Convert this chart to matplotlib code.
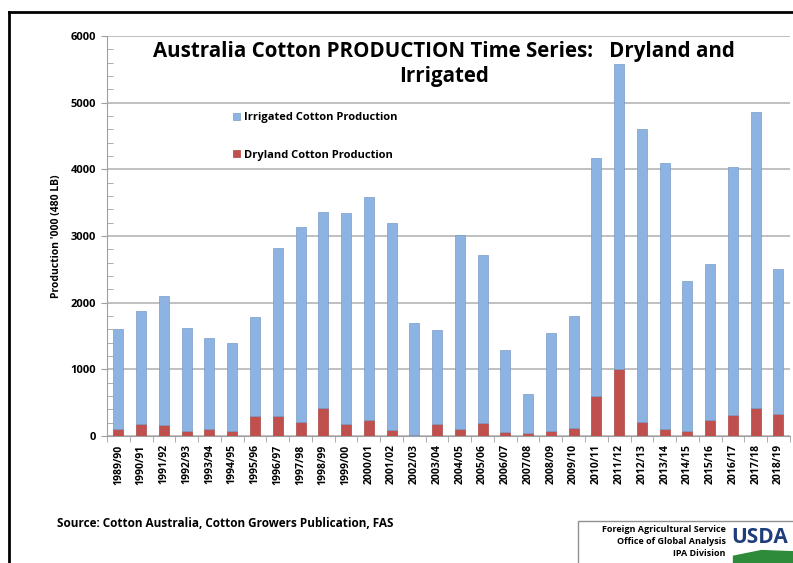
import matplotlib.pyplot as plt
from matplotlib.patches import Rectangle, Polygon
from matplotlib.lines import Line2D
import numpy as np

plt.rcParams['font.family'] = ['Open Sans', 'DejaVu Sans']

seasons = ['1989/90', '1990/91', '1991/92', '1992/93', '1993/94', '1994/95',
           '1995/96', '1996/97', '1997/98', '1998/99', '1999/00', '2000/01',
           '2001/02', '2002/03', '2003/04', '2004/05', '2005/06', '2006/07',
           '2007/08', '2008/09', '2009/10', '2010/11', '2011/12', '2012/13',
           '2013/14', '2014/15', '2015/16', '2016/17', '2017/18', '2018/19']
total = [1600, 1880, 2100, 1620, 1470, 1400, 1790, 2820, 3130, 3360,
         3340, 3580, 3200, 1700, 1590, 3020, 2720, 1295, 630, 1550,
         1800, 4170, 5580, 4610, 4090, 2330, 2580, 4040, 4860, 2500]
dryland = [110, 175, 165, 70, 100, 70, 305, 293, 215, 415,
           185, 235, 95, 10, 185, 110, 195, 55, 40, 80,
           120, 600, 1010, 215, 110, 70, 235, 320, 415, 325]
irrigated = [t - d for t, d in zip(total, dryland)]

blue = '#8db3e2'
red = '#c0504d'

fig = plt.figure(figsize=(7.93, 5.63), dpi=100)
ax = fig.add_axes([0.135, 0.2256, 0.861, 0.7104])

x = np.arange(len(seasons))
ax.bar(x, dryland, width=0.44, color=red, edgecolor='#a94441', linewidth=0.5,
       label='Dryland Cotton Production', zorder=3)
ax.bar(x, irrigated, bottom=dryland, width=0.44, color=blue, edgecolor='#7a9cc8',
       linewidth=0.5, label='Irrigated Cotton Production', zorder=3)

ax.set_xlim(-0.5, len(seasons) - 0.5)
ax.set_ylim(0, 6000)
ax.set_yticks(range(0, 6001, 1000))
ax.set_yticks(range(0, 6001, 200), minor=True)
ax.set_xticks(x)
ax.set_xticklabels(seasons, rotation=90, fontsize=7.5, fontweight='bold')
ax.set_xticks(np.arange(-0.5, len(seasons), 1), minor=True)
ax.tick_params(axis='x', which='major', length=0, pad=6)
ax.tick_params(axis='x', which='minor', length=4, color='#a0a0a0')
ax.tick_params(axis='y', which='both', length=4, color='#a0a0a0', direction='in')
ax.tick_params(axis='y', which='major', direction='out', labelsize=8, pad=4)
for lab in ax.get_yticklabels():
    lab.set_fontweight('bold')
ax.grid(axis='y', color='#b5b5b5', linewidth=1.2, zorder=0)
for side in ['top', 'right']:
    ax.spines[side].set_visible(False)
ax.spines['left'].set_color('#a0a0a0')
ax.spines['bottom'].set_color('#a0a0a0')
ax.set_ylabel("Production '000 (480 LB)", fontsize=7.5, fontweight='bold', labelpad=6)

handles, labels = ax.get_legend_handles_labels()
ax.legend(handles[::-1], labels[::-1], loc='upper left', bbox_to_anchor=(0.17, 0.835),
          frameon=False, prop={'weight': 'bold', 'size': 8},
          handlelength=0.6, handleheight=0.6, handletextpad=0.4, labelspacing=2.4)

fig.text(0.56, 0.887, 'Australia Cotton PRODUCTION Time Series:   Dryland and\nIrrigated',
         ha='center', va='center', fontsize=14.8, fontweight='bold', linespacing=1.25)

fig.text(0.072, 0.071, 'Source: Cotton Australia, Cotton Growers Publication, FAS',
         fontsize=8.5, fontweight='bold', va='center')

# outer frame
fig.add_artist(Line2D([0.011, 1.0], [0.979, 0.979], color='black', lw=2))
fig.add_artist(Line2D([0.011, 0.011], [0.0, 0.979], color='black', lw=2))

# USDA box
fig.add_artist(Rectangle((0.729, -0.01), 0.28, 0.085, fill=False, edgecolor='#909090', lw=1))
for yy, s in [(0.060, 'Foreign Agricultural Service'), (0.038, 'Office of Global Analysis'),
              (0.016, 'IPA Division')]:
    fig.text(0.915, yy, s, ha='right', va='center', fontsize=6.5, fontweight='bold')
fig.text(0.922, 0.045, 'USDA', ha='left', va='center', fontsize=15, fontweight='bold',
         color='#1f3d7a')
fig.add_artist(Polygon([[0.925, 0.0], [0.925, 0.012], [0.96, 0.022], [1.0, 0.02], [1.0, 0.0]],
                       closed=True, color='#2e8b3a', transform=fig.transFigure))

fig.savefig('out.png', dpi=100)
